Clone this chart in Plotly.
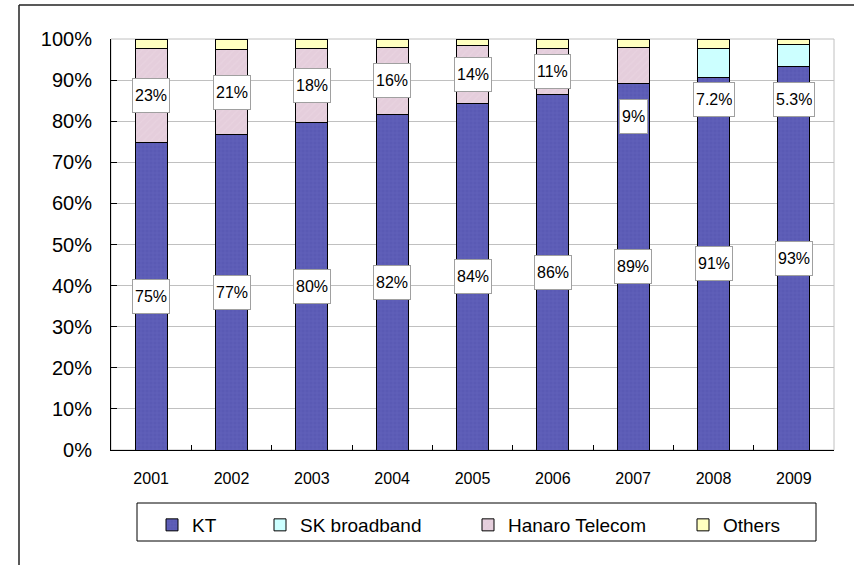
import plotly.graph_objects as go

years = ["2001", "2002", "2003", "2004", "2005", "2006", "2007", "2008", "2009"]
kt = [74.9, 76.8, 79.6, 81.7, 84.2, 86.4, 89.2, 90.6, 93.3]
sk_broadband = [None, None, None, None, None, None, None, 7.2, 5.3]
hanaro = [22.7, 20.6, 18.0, 16.3, 14.3, 11.4, 8.8, None, None]
others = [2.4, 2.6, 2.4, 2.0, 1.5, 2.2, 2.0, 2.2, 1.4]

kt_labels = ["75%", "77%", "80%", "82%", "84%", "86%", "89%", "91%", "93%"]
second_labels = ["23%", "21%", "18%", "16%", "14%", "11%", "9%", "7.2%", "5.3%"]
y_ticks = [0, 10, 20, 30, 40, 50, 60, 70, 80, 90, 100]
y_ticktext = [f"{v}%" for v in y_ticks]

# label position overrides (labels moved below their segment in the original)
second_label_pos = {"2007": 81.2, "2008": 85.2, "2009": 85.4}

FONT = "Liberation Sans, Arial, sans-serif"
OFF = 0  # body margin removed via post_script
W, H = 854 - 2 * OFF, 565 - 2 * OFF
# plot area in page pixels: x 111..834, y 39..450
L, T = 111 - OFF, 39 - OFF
R = W - (834 - OFF)
B = H - (450 - OFF)
PW, PH = W - L - R, H - T - B


def px_x(p):
    return (p - OFF - L) / PW


def px_y(p):
    return (H - B - (p - OFF)) / PH


fig = go.Figure()
fig.add_trace(go.Bar(
    x=years, y=kt, name="KT", legend="legend",
    marker=dict(color="#5a5ab4", line=dict(color="#000000", width=1),
                pattern=dict(shape="+", fgcolor="#7171c4", size=4, solidity=0.25)),
))
fig.add_trace(go.Bar(
    x=years, y=sk_broadband, name="SK broadband", legend="legend2",
    marker=dict(color="#ccffff", line=dict(color="#000000", width=1)),
))
fig.add_trace(go.Bar(
    x=years, y=hanaro, name="Hanaro Telecom", legend="legend3",
    marker=dict(color="#e5cedc", line=dict(color="#000000", width=1),
                pattern=dict(shape="/", fgcolor="#ecd9e4", size=5, solidity=0.2)),
))
fig.add_trace(go.Bar(
    x=years, y=others, name="Others", legend="legend4",
    marker=dict(color="#ffffc0", line=dict(color="#000000", width=1)),
))

label_style = dict(showarrow=False, bgcolor="white", bordercolor="#a0a0a0",
                   borderwidth=1, borderpad=2, height=29,
                   font=dict(family=FONT, size=16, color="black"))
annotations = []
for i, yr in enumerate(years):
    annotations.append(dict(x=i, y=kt[i] / 2, text=kt_labels[i], **label_style))
    seg = hanaro[i] if hanaro[i] is not None else sk_broadband[i]
    ypos = second_label_pos.get(yr, kt[i] + seg / 2)
    annotations.append(dict(x=i, y=ypos, text=second_labels[i], **label_style))

shapes = [
    # plot area frame (light gray)
    dict(type="rect", xref="paper", yref="paper", x0=0, x1=1, y0=0, y1=1,
         line=dict(color="#c0c0c0", width=1), layer="below"),
    # outer chart frame
    dict(type="line", xref="paper", yref="paper", x0=px_x(19), x1=px_x(19),
         y0=px_y(5), y1=px_y(575), line=dict(color="#222222", width=1.5)),
    dict(type="line", xref="paper", yref="paper", x0=px_x(19), x1=px_x(870),
         y0=px_y(5), y1=px_y(5), line=dict(color="#222222", width=1.5)),
    # legend box
    dict(type="rect", xref="paper", yref="paper", x0=px_x(137), x1=px_x(816),
         y0=px_y(541), y1=px_y(503), line=dict(color="#000000", width=1)),
]

legend_font = dict(family=FONT, size=19, color="black")
leg_y = px_y(525)


def leg(xpix):
    return dict(x=px_x(xpix), y=leg_y, xanchor="left", yanchor="middle",
                orientation="h", font=legend_font, bgcolor="rgba(0,0,0,0)",
                borderwidth=0)


fig.update_layout(
    width=W, height=H,
    margin=dict(l=L, r=R, t=T, b=B, pad=0),
    barmode="stack", bargap=0.6,
    plot_bgcolor="white", paper_bgcolor="white",
    font=dict(family=FONT, color="black"),
    xaxis=dict(
        type="category", range=[-0.5, len(years) - 0.5],
        showline=True, linecolor="black", linewidth=1,
        ticks="inside", tickson="boundaries", ticklen=5, tickcolor="black",
        tickfont=dict(family=FONT, size=16), showgrid=False,
        ticklabelstandoff=14,
    ),
    yaxis=dict(
        range=[0, 100], tickvals=y_ticks, ticktext=y_ticktext,
        showline=True, linecolor="black", linewidth=1,
        ticks="inside", ticklen=6, tickcolor="black",
        tickfont=dict(family=FONT, size=20), showgrid=True,
        gridcolor="#c0c0c0", gridwidth=1, zeroline=False,
        ticklabelstandoff=14,
    ),
    showlegend=True,
    legend=leg(152),
    legend2=leg(260),
    legend3=leg(468),
    legend4=leg(683),
    annotations=annotations,
    shapes=shapes,
)

fig.write_html(
    "out.html",
    config={"displayModeBar": False},
    post_script="document.body.style.margin='0px';document.body.style.overflow='hidden';",
)
